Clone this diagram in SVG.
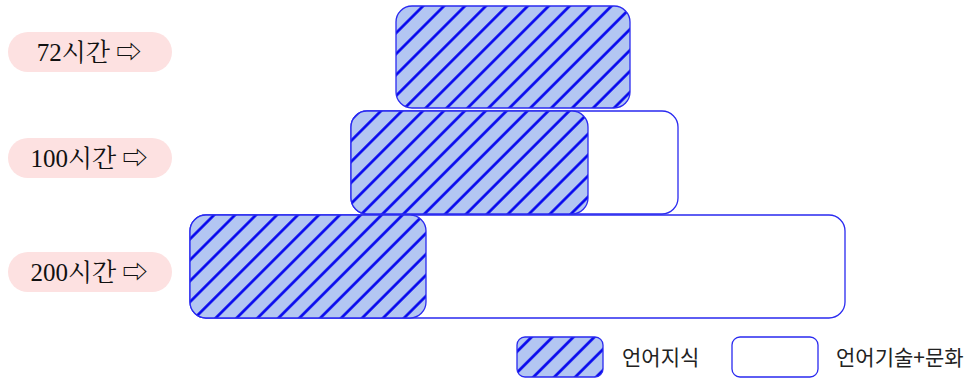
<svg xmlns="http://www.w3.org/2000/svg" width="978" height="378" viewBox="0 0 978 378">
<defs>
<pattern id="hatch" patternUnits="userSpaceOnUse" width="14.8" height="14.8" patternTransform="rotate(45)">
<rect width="14.8" height="14.8" fill="#b3c6f2"/>
<line x1="7.4" y1="0" x2="7.4" y2="14.8" stroke="#0000ee" stroke-width="2.6"/>
</pattern>
<style>
.hb{fill:url(#hatch);stroke:#2a2af0;stroke-width:1.3}
.wb{fill:#fff;stroke:#2a2af0;stroke-width:1.3}
.pill{fill:#fde1e1}
.lt{font-family:"Liberation Serif","Noto Serif CJK KR","Noto Sans CJK KR",serif;font-size:25px;fill:#111;text-anchor:middle}
.lg{font-family:"Noto Sans CJK KR","Noto Sans",sans-serif;font-size:21px;fill:#222}
</style>
</defs>
<g id="label-72"><rect class="pill" x="8" y="32" width="164" height="40" rx="20"/><text class="lt" x="89" y="61">72시간 ⇨</text></g>
<g id="label-100"><rect class="pill" x="8" y="138" width="164" height="40" rx="20"/><text class="lt" x="89" y="167">100시간 ⇨</text></g>
<g id="label-200"><rect class="pill" x="8" y="252" width="164" height="40" rx="20"/><text class="lt" x="89" y="281">200시간 ⇨</text></g>
<g id="bar-200"><rect class="wb" x="190" y="215" width="655" height="103" rx="16"/><rect class="hb" x="190" y="215" width="236" height="103" rx="16"/></g>
<g id="bar-100"><rect class="wb" x="351" y="111" width="327" height="103" rx="16"/><rect class="hb" x="351" y="111" width="237" height="103" rx="16"/></g>
<g id="bar-72"><rect class="hb" x="396" y="6" width="234" height="102" rx="16"/></g>
<g id="legend">
<rect class="hb" x="517" y="337" width="86" height="40" rx="8"/>
<text class="lg" x="622" y="365">언어지식</text>
<rect class="wb" x="732" y="337" width="86" height="40" rx="8"/>
<text class="lg" x="836" y="365">언어기술+문화</text>
</g>
<g id="connectors"/>
</svg>
